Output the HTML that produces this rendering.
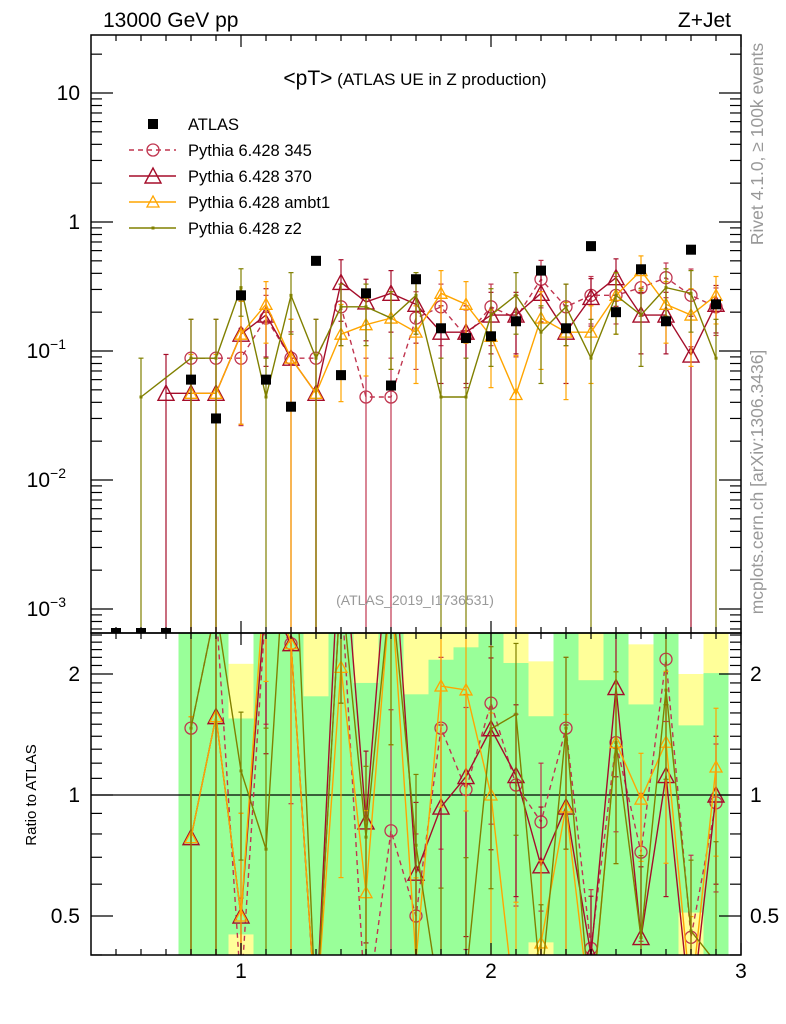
<!DOCTYPE html>
<html><head><meta charset="utf-8"><style>
html,body{margin:0;padding:0;background:#fff;width:786px;height:1024px;overflow:hidden;}
svg{display:block;font-family:"Liberation Sans",sans-serif;}
</style></head><body>
<svg id="c" width="786" height="1024" viewBox="0 0 786 1024" xmlns="http://www.w3.org/2000/svg">
<defs>
<clipPath id="cm"><rect x="91" y="35" width="650" height="598"/></clipPath>
<clipPath id="cr"><rect x="91" y="633" width="650" height="322"/></clipPath>
</defs>
<g id="ratioBands" clip-path="url(#cr)"></g>
<g id="mainG" clip-path="url(#cm)"></g>
<g id="ratioG" clip-path="url(#cr)"></g>
<g id="axes"></g>
<text x="103" y="27" font-size="21">13000 GeV pp</text>
<text x="731" y="27" font-size="21" text-anchor="end">Z+Jet</text>
<text x="415" y="85" text-anchor="middle"><tspan font-size="21">&lt;pT&gt;</tspan><tspan font-size="17"> (ATLAS UE in Z production)</tspan></text>
<text x="415" y="605" text-anchor="middle" font-size="14" fill="#999">(ATLAS_2019_I1736531)</text>
<text transform="translate(763,144) rotate(-90)" text-anchor="middle" font-size="17.5" fill="#999">Rivet 4.1.0, ≥ 100k events</text>
<text transform="translate(763,482) rotate(-90)" text-anchor="middle" font-size="17.5" fill="#999">mcplots.cern.ch [arXiv:1306.3436]</text>
<text transform="translate(36,795) rotate(-90)" text-anchor="middle" font-size="15">Ratio to ATLAS</text>
<g id="legend"></g>
</svg>
<script>
const xCats=[0.5,0.6,0.7,0.8,0.9,1.0,1.1,1.2,1.3,1.4,1.5,1.6,1.7,1.8,1.9,2.0,2.1,2.2,2.3,2.4,2.5,2.6,2.7,2.8,2.9];
const atlasVals=[0.0006,0.0006,0.0006,0.06,0.03,0.27,0.06,0.037,0.5,0.065,0.28,0.054,0.36,0.15,0.126,0.13,0.17,0.42,0.15,0.65,0.2,0.43,0.17,0.61,0.23];
const p345Vals=[null,null,null,0.088,0.088,0.088,0.18,0.088,0.088,0.22,0.044,0.044,0.18,0.22,0.13,0.22,0.18,0.36,0.22,0.27,0.27,0.31,0.37,0.27,0.22];
const p370Vals=[null,null,0.047,0.047,0.047,0.135,0.19,0.088,0.047,0.34,0.24,0.28,0.23,0.14,0.14,0.19,0.19,0.28,0.14,0.26,0.37,0.19,0.19,0.093,0.23];
const ambt1Vals=[null,null,null,0.047,0.047,0.135,0.23,0.088,0.047,0.135,0.16,0.18,0.14,0.28,0.23,0.13,0.046,0.18,0.14,0.14,0.27,0.42,0.23,0.19,0.27];
const z2Vals=[null,0.044,null,0.088,0.088,0.31,0.044,0.27,0.088,0.22,0.22,0.18,0.27,0.044,0.044,0.19,0.27,0.14,0.22,0.088,0.27,0.19,0.31,0.28,0.088];
const p345Err=[0,0,0,1,1,0.7,0.5,0.6,1,0.5,1,1,0.6,0.5,0.6,0.5,0.5,0.4,0.5,0.4,0.4,0.4,0.3,0.6,0.4];
const p370Err=[0,0,1,1,1,0.8,0.6,1,1,0.5,0.5,0.5,0.5,0.6,0.6,0.5,0.5,0.4,0.6,0.4,0.4,0.5,0.5,1,0.4];
const ambt1Err=[0,0,0,1,1,0.8,0.5,1,1,0.7,0.6,0.6,0.6,0.5,0.5,0.6,1,0.6,0.7,0.6,0.5,0.3,0.5,0.6,0.4];
const z2Err=[0,1,0,1,1,0.4,1,0.5,1,0.5,0.5,0.6,0.5,1,1,0.6,0.5,0.6,0.5,1,0.5,0.6,0.4,0.5,1];
const bandCats=[0.8,0.9,1.0,1.1,1.2,1.3,1.4,1.5,1.6,1.7,1.8,1.9,2.0,2.1,2.2,2.3,2.4,2.5,2.6,2.7,2.8,2.9];
const statErr=[2,2,0.55,2,2,0.76,2,0.90,2,0.78,1.17,1.33,2,1.13,0.57,2,0.93,2,0.68,2,0.49,1.01];
const totErr=[2,2,1.12,2,2,2,2,2,2,2,2,2,2,2,1.15,2,2,2,1.37,2,1.0,2];
const mainTicks=[{v:10,t:"10"},{v:1,t:"1"},{v:0.1,t:"10",e:"−1"},{v:0.01,t:"10",e:"−2"},{v:0.001,t:"10",e:"−3"}];
const ratioTicks=[2,1,0.5];
const xTicks=[1,2,3];

const NS="http://www.w3.org/2000/svg";
const X0=91,X1=741,YT=35,YM=633,YB=955;
const clampY=y=>Math.max(0,Math.min(1018,y));
const xs=v=>X0+(v-0.4)*250;
const ym=v=>v>0?clampY(222-129*Math.log10(v)):1018;
const yr=r=>r>0?clampY(795-402*Math.log10(r)):1018;
function el(tag,attrs,parent){const e=document.createElementNS(NS,tag);for(const k in attrs)e.setAttribute(k,attrs[k]);parent.appendChild(e);return e;}
const mainG=document.getElementById('mainG'),ratioG=document.getElementById('ratioG'),bandG=document.getElementById('ratioBands'),axes=document.getElementById('axes'),leg=document.getElementById('legend');

bandCats.forEach((c,i)=>{
  const xa=xs(c-0.05),xb=xs(c+0.05);
  const tu=1+totErr[i],td=1-totErr[i];
  let r=el('rect',{x:xa,y:yr(tu),width:xb-xa,height:Math.min(yr(td),YB)-yr(tu),fill:'#ffff99'},bandG);
  
  
  const su=1+statErr[i],sd=1-statErr[i];
  r=el('rect',{x:xa,y:yr(su),width:xb-xa,height:Math.min(yr(sd),YB)-yr(su),fill:'#99ff99'},bandG);
  
  
});
let l1=el('line',{x1:X0,x2:X1,y1:yr(1),y2:yr(1),stroke:'#000','stroke-width':1.2},ratioG);



function marker(g,kind,x,y,col){
  let m;
  if(kind==='circle')m=el('circle',{cx:x,cy:y,r:6,fill:'none',stroke:col,'stroke-width':1.3},g);
  else if(kind==='tri')m=el('polygon',{points:`${x-8},${y+7} ${x+8},${y+7} ${x},${y-8}`,fill:'none',stroke:col,'stroke-width':1.4},g);
  else if(kind==='tris')m=el('polygon',{points:`${x-6},${y+5} ${x+6},${y+5} ${x},${y-6}`,fill:'none',stroke:col,'stroke-width':1.3},g);
  else if(kind==='dot')m=el('rect',{x:x-1.5,y:y-1.5,width:3,height:3,fill:col},g);
  else m=el('rect',{x:x-5,y:y-5,width:10,height:10,fill:col},g);
  return m;
}
function errbar(g,x,ya,yb,col){
  let l=el('line',{x1:x,x2:x,y1:ya,y2:yb,stroke:col,'stroke-width':1.2},g);
  
  
  el('line',{x1:x-2.5,x2:x+2.5,y1:ya,y2:ya,stroke:col,'stroke-width':1.2},g);
  el('line',{x1:x-2.5,x2:x+2.5,y1:yb,y2:yb,stroke:col,'stroke-width':1.2},g);
}
const series=[
  {name:'pythia-345',vals:p345Vals,err:p345Err,col:'#c0354f',mk:'circle',dash:'5,4'},
  {name:'pythia-370',vals:p370Vals,err:p370Err,col:'#a50d2a',mk:'tri',dash:null},
  {name:'pythia-ambt1',vals:ambt1Vals,err:ambt1Err,col:'#ffa500',mk:'tris',dash:null},
  {name:'pythia-z2',vals:z2Vals,err:z2Err,col:'#808000',mk:'dot',dash:null}
];
series.forEach(s=>{
  const gm=el('g',{},mainG);
  
  
  const gr=el('g',{},ratioG);
  
  
  let pm=[],pr=[];
  xCats.forEach((c,i)=>{
    const v=s.vals[i];if(v==null)return;
    const x=xs(c),e=v*s.err[i];
    pm.push(x+','+ym(v));
    errbar(gm,x,ym(v+e),Math.min(ym(v-e),YM+5),s.col);
    const a=atlasVals[i];
    if(a>0.005){
      pr.push(x+','+yr(v/a));
      errbar(gr,x,Math.max(yr((v+e)/a),YM-5),Math.min(yr((v-e)/a),YB+5),s.col);
    }
  });
  const lp={points:pm.join(' '),fill:'none',stroke:s.col,'stroke-width':1.4};
  if(s.dash)lp['stroke-dasharray']=s.dash;
  let pl=el('polyline',lp,gm);
  
  
  const lr=Object.assign({},lp,{points:pr.join(' ')});
  pl=el('polyline',lr,gr);
  
  
  xCats.forEach((c,i)=>{
    const v=s.vals[i];if(v==null)return;
    let m=marker(gm,s.mk,xs(c),ym(v),s.col);
    
    
    const a=atlasVals[i];
    if(a>0.005){
      m=marker(gr,s.mk,xs(c),yr(v/a),s.col);
      
      
    }
  });
});
const ga=el('g',{},mainG);


xCats.forEach((c,i)=>{
  const v=atlasVals[i];
  const y=Math.min(ym(v),YM);
  const m=marker(ga,'sq',xs(c),y,'#000');
  
  
});

[[YT,YM],[YM,YB]].forEach(p=>{
  const r=el('rect',{x:X0,y:p[0],width:X1-X0,height:p[1]-p[0],fill:'none',stroke:'#000','stroke-width':1.5},axes);
  
  
});
function tk(x1,y1,x2,y2){el('line',{x1,y1,x2,y2,stroke:'#000','stroke-width':1.2},axes);}
for(let k=5;k<=30;k++){
  const v=k/10,x=xs(v),maj=(k%10===0),len=maj?12:6;
  [[YT,1],[YM,-1],[YM,1],[YB,-1]].forEach(([y,d])=>tk(x,y,x,y+d*len));
}
xTicks.forEach(v=>{
  const t=el('text',{x:xs(v),y:978,'font-size':21,'text-anchor':'middle'},axes);
  t.textContent=v;
  
  
});
for(let d=-4;d<=1;d++){
  for(let m=1;m<=9;m++){
    const v=m*Math.pow(10,d),y=222-129*Math.log10(v);if(y<YT||y>YM)continue;
    const len=m===1?22:11;
    tk(X0,y,X0+len,y);tk(X1,y,X1-len,y);
  }
}
mainTicks.forEach(o=>{
  const t=el('text',{x:80,y:ym(o.v)+7,'font-size':21,'text-anchor':'end'},axes);
  
  
  if(o.e){t.setAttribute('x',66);t.textContent=o.t;const s=el('tspan',{'font-size':14,dy:-9},t);s.textContent=o.e;}
  else t.textContent=o.t;
});
for(let k=4;k<=25;k++){
  const v=k/10,y=795-402*Math.log10(v);if(y<YM||y>YB)continue;
  const len=(k===5||k===10||k===20)?22:11;
  tk(X0,y,X0+len,y);tk(X1,y,X1-len,y);
}
ratioTicks.forEach(v=>{
  let t=el('text',{x:80,y:yr(v)+7,'font-size':21,'text-anchor':'end'},axes);
  t.textContent=v;
  
  
  t=el('text',{x:750,y:yr(v)+7,'font-size':21},axes);
  t.textContent=v;
  
  
});
const legItems=[
  {label:'ATLAS',col:'#000',mk:'sq',line:false},
  {label:'Pythia 6.428 345',col:'#c0354f',mk:'circle',line:true,dash:'5,4'},
  {label:'Pythia 6.428 370',col:'#a50d2a',mk:'tri',line:true},
  {label:'Pythia 6.428 ambt1',col:'#ffa500',mk:'tris',line:true},
  {label:'Pythia 6.428 z2',col:'#808000',mk:'dot',line:true}
];
legItems.forEach((it,i)=>{
  const y=124+i*26;
  const g=el('g',{},leg);
  
  
  if(it.line){const a={x1:129,x2:176,y1:y,y2:y,stroke:it.col,'stroke-width':1.4};if(it.dash)a['stroke-dasharray']=it.dash;el('line',a,g);}
  marker(g,it.mk,153,y,it.col);
  const t=el('text',{x:188,y:y+6,'font-size':16.5},g);
  t.textContent=it.label;
});
</script>
</body></html>
